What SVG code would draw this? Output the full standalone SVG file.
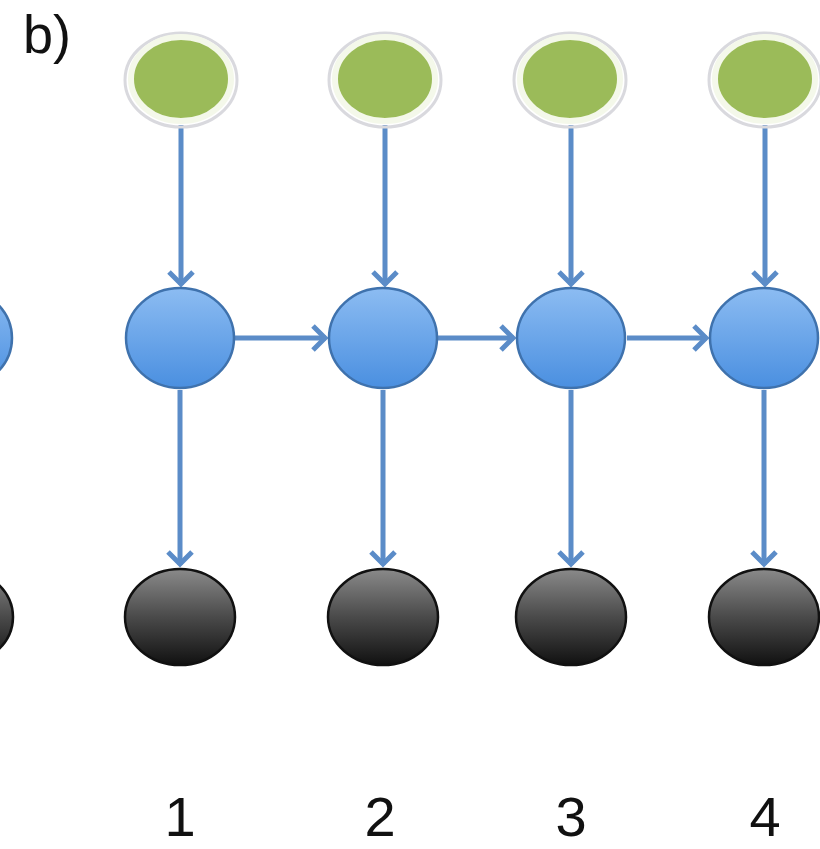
<svg xmlns="http://www.w3.org/2000/svg" width="820" height="849" viewBox="0 0 820 849">
<style>
.lbl{font-family:"Liberation Sans",Arial,sans-serif;fill:#111}
.edge{stroke:#5b8cc8;stroke-width:5;fill:none;marker-end:url(#ah)}
.green{fill:#9bbb59;stroke:#f4f8ea;stroke-width:6}
.gshadow{fill:none;stroke:#d9d9de;stroke-width:3}
.blue{fill:url(#gb);stroke:#3f72ad;stroke-width:2.5}
.black{fill:url(#gk);stroke:#111;stroke-width:2.5}
</style>
<defs>
<linearGradient id="gb" x1="0" y1="0" x2="0" y2="1">
<stop offset="0" stop-color="#8cbcf2"/>
<stop offset="1" stop-color="#4a8fe0"/>
</linearGradient>
<linearGradient id="gk" x1="0" y1="0" x2="0" y2="1">
<stop offset="0" stop-color="#8a8a8a"/>
<stop offset="0.5" stop-color="#4a4a4a"/>
<stop offset="1" stop-color="#111"/>
</linearGradient>
<marker id="ah" markerUnits="userSpaceOnUse" markerWidth="34" markerHeight="34" refX="16" refY="14" orient="auto" viewBox="0 0 34 34">
<path d="M3,2 L15,14 L3,26" fill="none" stroke="#5b8cc8" stroke-width="5" stroke-linejoin="miter"/>
</marker>
</defs>
<text class="lbl" x="23" y="53" font-size="54">b)</text>
<g id="edges">
<line class="edge" x1="181" y1="125" x2="181" y2="285"/>
<line class="edge" x1="385" y1="125" x2="385" y2="285"/>
<line class="edge" x1="571" y1="125" x2="571" y2="285"/>
<line class="edge" x1="765" y1="125" x2="765" y2="285"/>
<line class="edge" x1="235" y1="338" x2="326" y2="338"/>
<line class="edge" x1="438" y1="338" x2="514" y2="338"/>
<line class="edge" x1="627" y1="338" x2="707" y2="338"/>
<line class="edge" x1="180" y1="390" x2="180" y2="565"/>
<line class="edge" x1="383" y1="390" x2="383" y2="565"/>
<line class="edge" x1="571" y1="390" x2="571" y2="565"/>
<line class="edge" x1="764" y1="390" x2="764" y2="565"/>
</g>
<g id="g1"><ellipse class="gshadow" cx="181" cy="80" rx="56" ry="47"/><ellipse class="green" cx="181" cy="79" rx="50" ry="42"/></g>
<g id="g2"><ellipse class="gshadow" cx="385" cy="80" rx="56" ry="47"/><ellipse class="green" cx="385" cy="79" rx="50" ry="42"/></g>
<g id="g3"><ellipse class="gshadow" cx="570" cy="80" rx="56" ry="47"/><ellipse class="green" cx="570" cy="79" rx="50" ry="42"/></g>
<g id="g4"><ellipse class="gshadow" cx="765" cy="80" rx="56" ry="47"/><ellipse class="green" cx="765" cy="79" rx="50" ry="42"/></g>
<g id="b0"><ellipse class="blue" cx="-42" cy="338" rx="54" ry="50"/></g>
<g id="b1"><ellipse class="blue" cx="180" cy="338" rx="54" ry="50"/></g>
<g id="b2"><ellipse class="blue" cx="383" cy="338" rx="54" ry="50"/></g>
<g id="b3"><ellipse class="blue" cx="571" cy="338" rx="54" ry="50"/></g>
<g id="b4"><ellipse class="blue" cx="764" cy="338" rx="54" ry="50"/></g>
<g id="k0"><ellipse class="black" cx="-42" cy="617" rx="55" ry="48"/></g>
<g id="k1"><ellipse class="black" cx="180" cy="617" rx="55" ry="48"/></g>
<g id="k2"><ellipse class="black" cx="383" cy="617" rx="55" ry="48"/></g>
<g id="k3"><ellipse class="black" cx="571" cy="617" rx="55" ry="48"/></g>
<g id="k4"><ellipse class="black" cx="764" cy="617" rx="55" ry="48"/></g>
<g id="labels">
<text class="lbl" x="180" y="836" font-size="56" text-anchor="middle">1</text>
<text class="lbl" x="380" y="836" font-size="56" text-anchor="middle">2</text>
<text class="lbl" x="571" y="836" font-size="56" text-anchor="middle">3</text>
<text class="lbl" x="765" y="836" font-size="56" text-anchor="middle">4</text>
</g>
</svg>
